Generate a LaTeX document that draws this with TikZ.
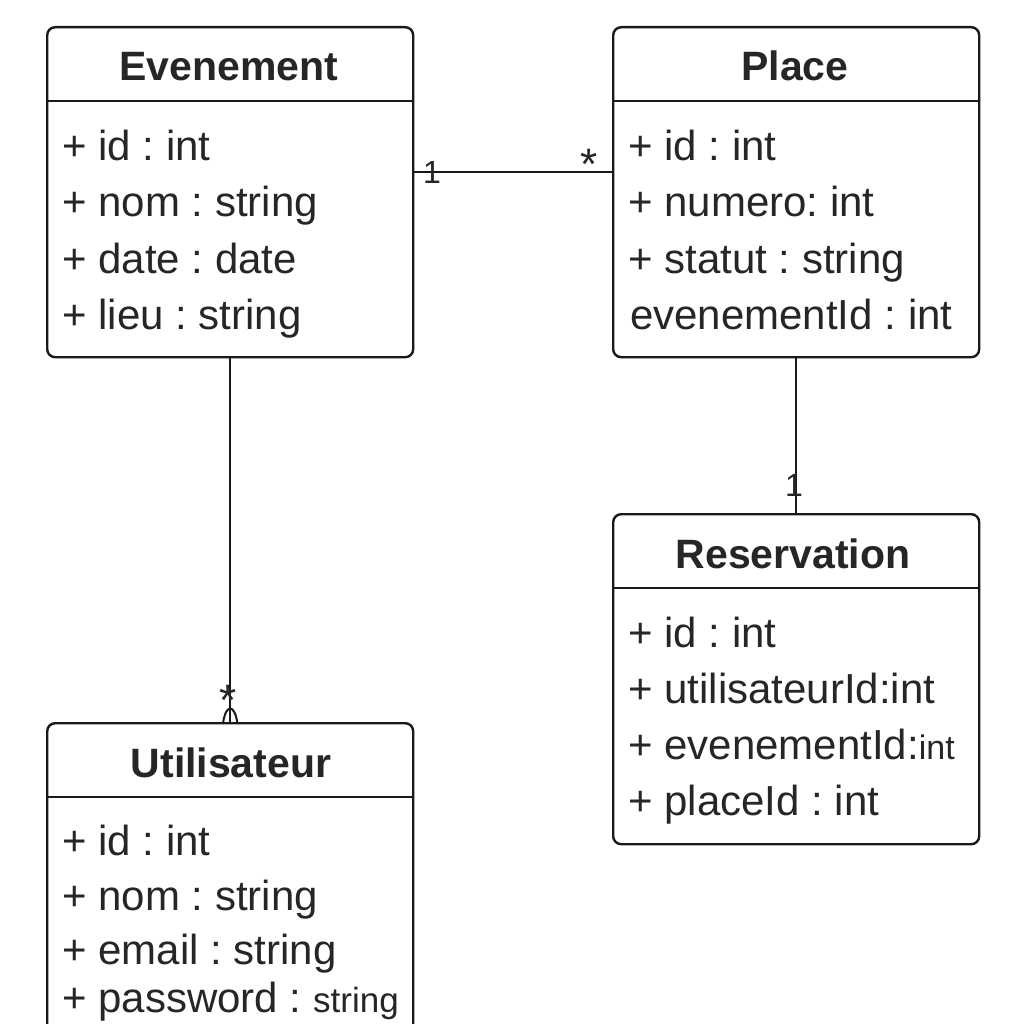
\documentclass[tikz,border=0pt]{standalone}
\usepackage{fontspec}
\setmainfont{Liberation Sans}
\frenchspacing
\begin{document}
\begin{tikzpicture}[x=1pt,y=-1pt,
  umlbox/.style={draw=black!90,line width=2.4pt,rounded corners=8pt,minimum width=366pt,minimum height=330pt,anchor=north west,inner sep=0pt},
  divider/.style={draw=black!90,line width=2.2pt},
  title/.style={font=\fontsize{41}{44}\selectfont\bfseries,text=black!85,anchor=base,inner sep=0pt},
  attr/.style={font=\fontsize{42}{46}\selectfont,text=black!85,anchor=base west,inner sep=0pt},
  conn/.style={draw=black!90,line width=2pt},
  mult/.style={font=\fontsize{32}{36}\selectfont,text=black!85,inner sep=0pt},
  star/.style={font=\fontsize{44}{46}\selectfont,text=black!85,inner sep=0pt}
]
\useasboundingbox[fill=white] (0,0) rectangle (1024,1024);

% Boxes
\node[umlbox] (ev) at (46,26) {};
\node[umlbox] (pl) at (612,26) {};
\node[umlbox] (re) at (612,513) {};
\node[umlbox] (ut) at (46,722) {};

% Dividers
\draw[divider] ([yshift=-75pt]ev.north west) -- ([yshift=-75pt]ev.north east);
\draw[divider] ([yshift=-75pt]pl.north west) -- ([yshift=-75pt]pl.north east);
\draw[divider] ([yshift=-75pt]re.north west) -- ([yshift=-75pt]re.north east);
\draw[divider] ([yshift=-75pt]ut.north west) -- ([yshift=-75pt]ut.north east);

% Titles
\node[title] (evt) at (229,81) {Evenement};
\node[title] (plt) at (795,81) {Place};
\node[title] (ret) at (793,568) {Reservation};
\node[title] (utt) at (231,777) {Utilisateur};

% Evenement attributes
\node[attr] (ev1) at (62,161) {+ id : int};
\node[attr] (ev2) at (62,217) {+ nom : string};
\node[attr] (ev3) at (62,273) {+ date : date};
\node[attr] (ev4) at (62,329) {+ lieu : string};

% Place attributes
\node[attr] (pl1) at (628,161) {+ id : int};
\node[attr] (pl2) at (628,217) {+ numero: int};
\node[attr] (pl3) at (628,273) {+ statut : string};
\node[attr] (pl4) at (630,329) {evenementId : int};

% Reservation attributes
\node[attr] (re1) at (628,647) {+ id : int};
\node[attr] (re2) at (628,703) {+ utilisateurId:int};
\node[attr] (re3) at (628,759) {+ evenementId:{\fontsize{34}{36}\selectfont int}};
\node[attr] (re4) at (628,815) {+ placeId : int};

% Utilisateur attributes
\node[attr] (ut1) at (62,855) {+ id : int};
\node[attr] (ut2) at (62,910) {+ nom : string};
\node[attr] (ut3) at (62,964) {+ email : string};
\node[attr] (ut4) at (62,1012) {+ password : {\fontsize{35}{36}\selectfont string}};

% Connectors
\draw[conn] ([yshift=-146pt]ev.north east) -- ([yshift=-146pt]pl.north west);
\draw[conn] (ev.south) -- (ut.north);
\draw[conn] (pl.south) -- (re.north);
\draw[conn] ([xshift=-7pt]ut.north) .. controls ([xshift=-4pt,yshift=18pt]ut.north) and ([xshift=4pt,yshift=18pt]ut.north) .. ([xshift=7pt]ut.north);

% Multiplicities
\node[mult] (m1) at (432,172) {1};
\node[star] (m2) at (589,164) {*};
\node[star] (m3) at (228,700) {*};
\node[mult] (m4) at (794,485) {1};
\end{tikzpicture}
\end{document}
